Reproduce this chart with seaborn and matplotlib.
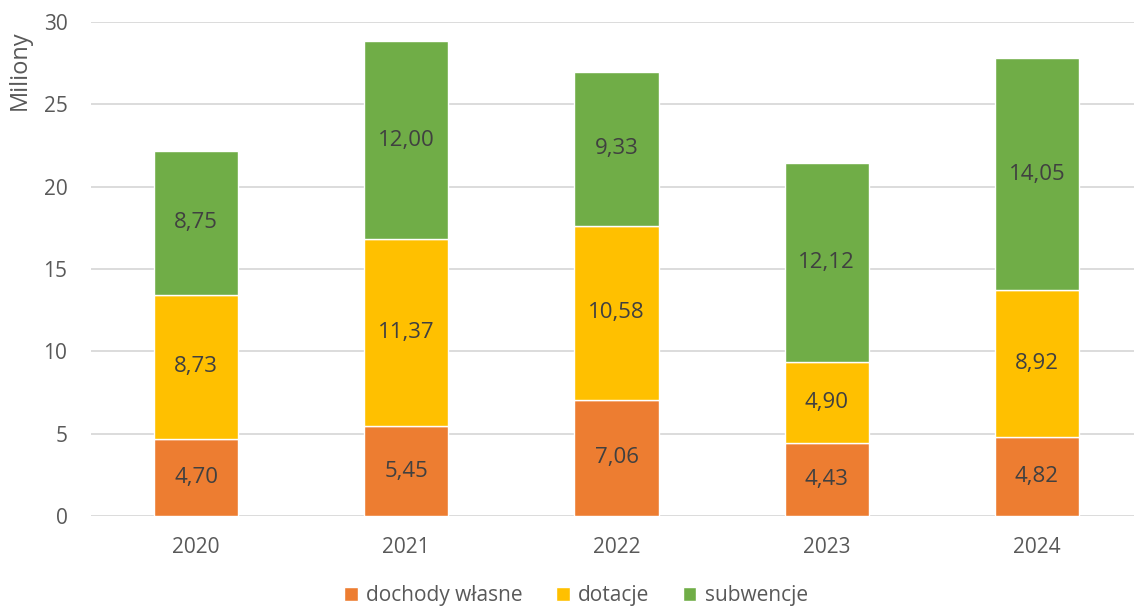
import numpy as np
import pandas as pd
import matplotlib
matplotlib.use('Agg')
import matplotlib.pyplot as plt
import seaborn as sns

# --- dane (w milionach) ---
lata = ['2020', '2021', '2022', '2023', '2024']
dochody_wlasne = [4.70, 5.45, 7.06, 4.43, 4.82]
dotacje = [8.73, 11.37, 10.58, 4.90, 8.92]
subwencje = [8.75, 12.00, 9.33, 12.12, 14.05]

serie = ['dochody własne', 'dotacje', 'subwencje']
kolory = ['#ED7D31', '#FFC000', '#70AD47']
szary_tekst = '#595959'

sns.set_style('white')
plt.rcParams['font.family'] = ['Open Sans', 'DejaVu Sans']

fig = plt.figure(figsize=(11.34, 6.09), dpi=100)
ax = fig.add_axes([91 / 1134, 93 / 609, 1051 / 1134, 494 / 609])

dane = [dochody_wlasne, dotacje, subwencje]
dol = np.zeros(len(lata))
for nazwa, wartosci, kolor in zip(serie, dane, kolory):
    sns.barplot(x=lata, y=wartosci, bottom=dol, color=kolor, width=0.4,
                label=nazwa, ax=ax, saturation=1, zorder=3)
    dol = dol + np.array(wartosci)

# etykiety wartości (przecinek dziesiętny)
for kontener, wartosci in zip(ax.containers, dane):
    ax.bar_label(kontener, labels=[f"{v:.2f}".replace('.', ',') for v in wartosci],
                 label_type='center', color='#404040', fontsize=16)

ax.set_ylim(0, 30)
ax.set_xlim(-0.5, 4.5)
ax.set_yticks(np.arange(0, 31, 5))
ax.yaxis.grid(True, color='#D9D9D9', linewidth=1.3, zorder=0)
ax.xaxis.grid(False)
ax.set_axisbelow(True)
for s in ax.spines.values():
    s.set_visible(False)
ax.tick_params(axis='y', length=0, pad=17, labelsize=15, labelcolor=szary_tekst)
ax.tick_params(axis='x', length=0, pad=15, labelsize=15, labelcolor=szary_tekst)

ax.set_ylabel('Miliony', fontsize=17, color=szary_tekst)
ax.yaxis.set_label_coords(-0.056, 0.903)
ax.set_xlabel('')

if ax.legend_ is not None:
    ax.legend_.remove()
uchwyty, etykiety = ax.get_legend_handles_labels()
fig.legend(uchwyty, etykiety, loc='center', bbox_to_anchor=(0.508, 0.022), ncol=3,
           frameon=False, fontsize=15, labelcolor=szary_tekst, handlelength=0.65,
           handleheight=0.65, handletextpad=0.4, columnspacing=1.6)

plt.savefig('out.png', dpi=100)
